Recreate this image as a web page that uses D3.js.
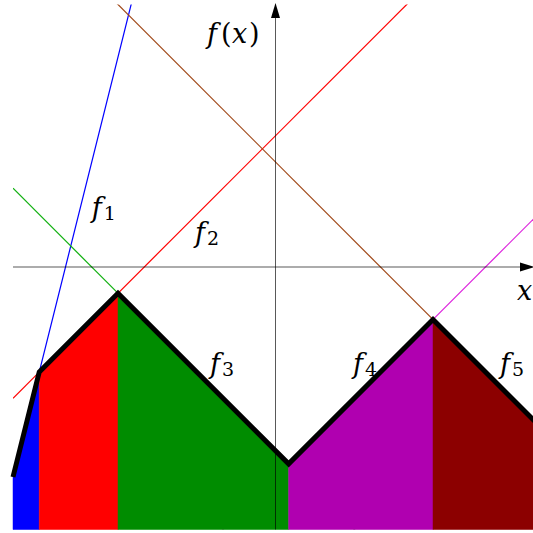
<!DOCTYPE html>
<html>
<head>
<meta charset="utf-8">
<script src="https://cdn.jsdelivr.net/npm/d3@7"></script>
<style>
  html, body { margin: 0; padding: 0; background: #fff; }
  svg { display: block; }
  .tex { font-family: "DejaVu Serif", serif; }
</style>
</head>
<body>
<svg id="chart" width="533" height="533"></svg>
<script>
// Five linear pieces f_i(x) = slope * x + intercept
const names      = ["1", "2", "3", "4", "5"];
const slopes     = [4, 1, -1, 1, -1];
const intercepts = [32, 5, -7, -8, 4];
// Interval boundaries: piece i is active on [breaks[i], breaks[i+1]]
const breaks     = [-10, -9, -6, 0.5, 6, 10];
// Axis extent
const xDomain    = [-10, 10];
const yDomain    = [-10, 10];

const lineColors = ["#0000ff", "#ff0000", "#10b010", "#dd22dd", "#a04818"];
const fillColors = ["#0000ff", "#ff0000", "#008c00", "#b000b0", "#8c0000"];

const svg = d3.select("#chart");
const x = d3.scaleLinear().domain(xDomain).range([13, 538]);
const y = d3.scaleLinear().domain(yDomain).range([529.5, 4.5]);

const f = i => v => slopes[i] * v + intercepts[i];

svg.append("defs").append("clipPath").attr("id", "box")
  .append("rect")
  .attr("x", x(xDomain[0])).attr("y", y(yDomain[1]))
  .attr("width", x(xDomain[1]) - x(xDomain[0]))
  .attr("height", y(yDomain[0]) - y(yDomain[1]));

const line = d3.line().x(d => x(d[0])).y(d => y(d[1]));

// Full lines of every piece, clipped to the box
const thin = svg.append("g").attr("clip-path", "url(#box)");
names.forEach((n, i) => {
  thin.append("path")
    .attr("d", line(xDomain.map(v => [v, f(i)(v)])))
    .attr("fill", "none")
    .attr("stroke", lineColors[i])
    .attr("stroke-width", 1.2);
});

// Labels f_i
const labelPos = [[-7, 1.9], [-3.07, 0.95], [-2.5, -4.04], [2.95, -4.04], [8.55, -4.04]];
const labels = svg.append("g").attr("class", "tex");
names.forEach((n, i) => {
  const px = x(labelPos[i][0]), py = y(labelPos[i][1]);
  const t = labels.append("text").attr("x", px).attr("y", py);
  t.append("tspan").style("font-style", "italic").style("font-size", "27px").text("f");
  t.append("tspan").attr("x", px + 12).attr("dy", 3).style("font-size", "19px").text(n);
});

// Filled regions under the active piece
const area = d3.area()
  .x(d => x(d[0]))
  .y0(y(yDomain[0]))
  .y1(d => y(d[1]));
names.forEach((n, i) => {
  const seg = [breaks[i], breaks[i + 1]].map(v => [v, f(i)(v)]);
  svg.append("path")
    .attr("d", area(seg))
    .attr("fill", fillColors[i])
    .attr("stroke", fillColors[i])
    .attr("stroke-width", 0.5);
});

// Axes
const axes = svg.append("g");
axes.append("line")
  .attr("x1", x(xDomain[0])).attr("y1", y(0))
  .attr("x2", x(xDomain[1]) - 12).attr("y2", y(0))
  .attr("stroke", "#000").attr("stroke-opacity", 0.65).attr("stroke-width", 1);
axes.append("line")
  .attr("x1", x(0)).attr("y1", y(yDomain[0]))
  .attr("x2", x(0)).attr("y2", y(yDomain[1]) + 12)
  .attr("stroke", "#000").attr("stroke-opacity", 0.65).attr("stroke-width", 1);
// Arrow heads
const tipX = [x(xDomain[1]) - 3, y(0)];
axes.append("path")
  .attr("d", `M${tipX[0]},${tipX[1]} L${tipX[0] - 15},${tipX[1] - 4.5} L${tipX[0] - 15},${tipX[1] + 4.5} Z`)
  .attr("fill", "#000");
const tipY = [x(0), y(yDomain[1]) - 1.5];
axes.append("path")
  .attr("d", `M${tipY[0]},${tipY[1]} L${tipY[0] - 4.5},${tipY[1] + 15} L${tipY[0] + 4.5},${tipY[1] + 15} Z`)
  .attr("fill", "#000");

// Axis titles
const titles = svg.append("g").attr("class", "tex").style("font-size", "27px");
const fx0 = x(-2.61);
const fx = titles.append("text").attr("x", fx0).attr("y", y(8.53));
fx.append("tspan").style("font-style", "italic").text("f");
fx.append("tspan").attr("x", fx0 + 14).text("(");
fx.append("tspan").attr("x", fx0 + 25).style("font-style", "italic").text("x");
fx.append("tspan").attr("x", fx0 + 42).text(")");
titles.append("text").attr("x", x(9.2)).attr("y", y(-1.26))
  .style("font-style", "italic").text("x");

// Active piece outline
const env = breaks.map((v, k) => [v, f(Math.min(k, names.length - 1))(v)]);
svg.append("path")
  .attr("d", line(env))
  .attr("fill", "none")
  .attr("stroke", "#000")
  .attr("stroke-width", 5)
  .attr("stroke-linejoin", "miter")
  .attr("stroke-miterlimit", 10);
</script>
</body>
</html>
